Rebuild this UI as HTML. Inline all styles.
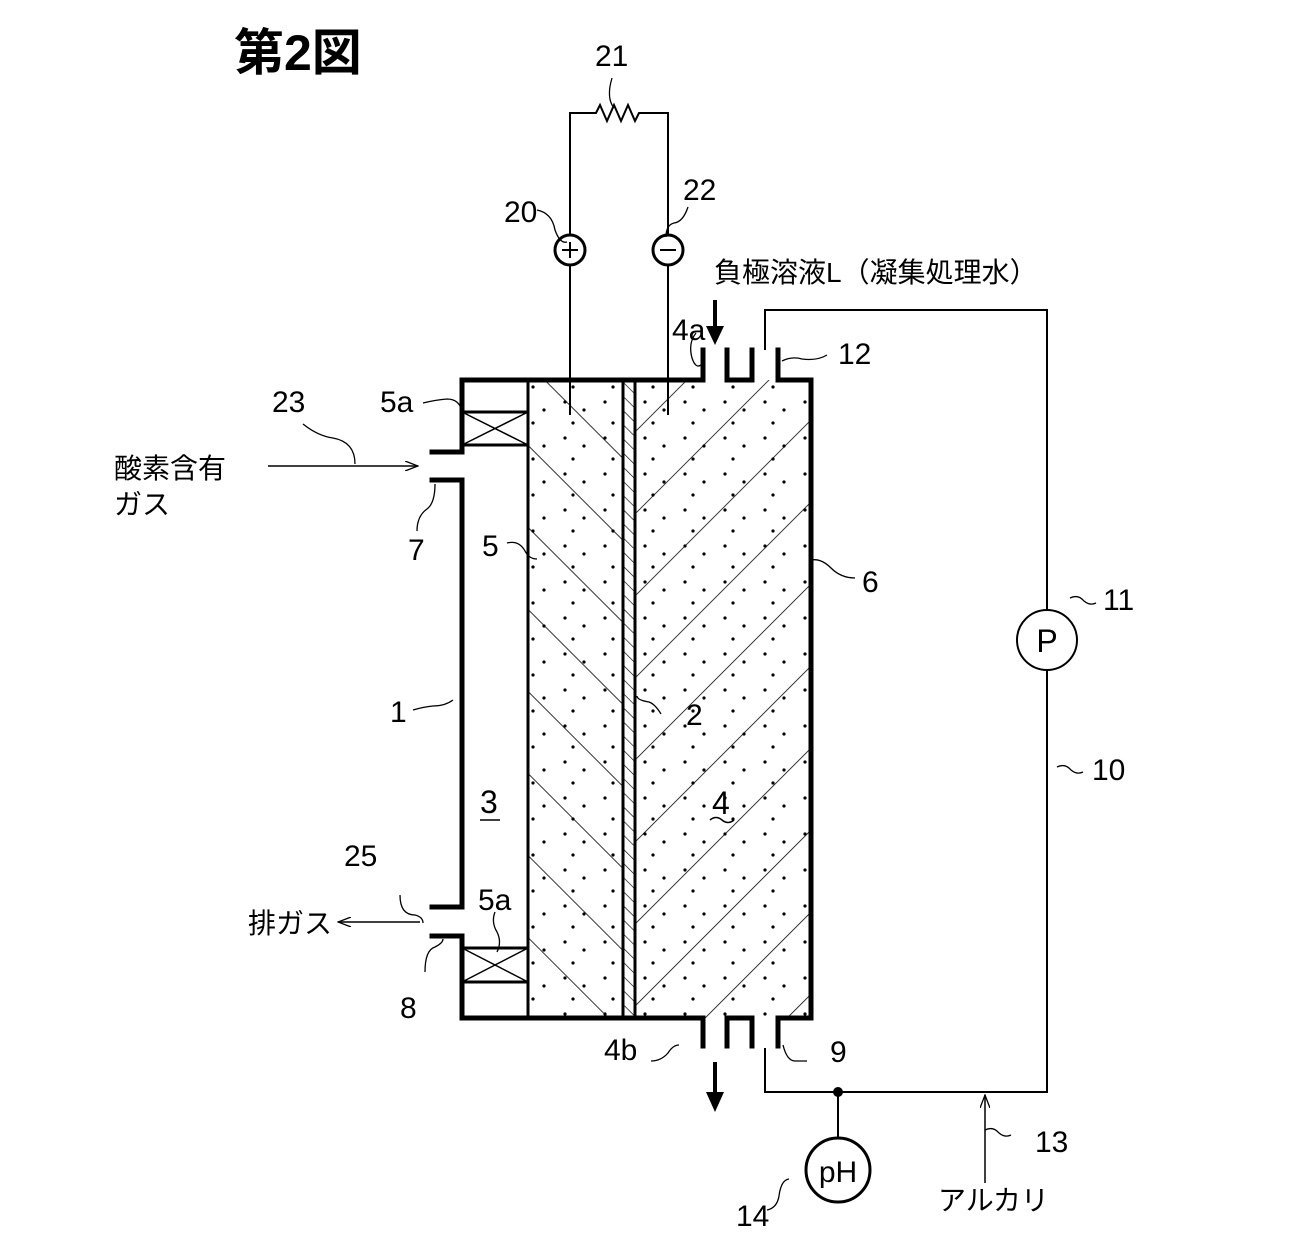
<!DOCTYPE html>
<html><head><meta charset="utf-8"><style>
html,body{margin:0;padding:0;background:#fff;}
svg{display:block}
text{font-family:"Liberation Sans","Noto Sans CJK JP",sans-serif;fill:#000}
</style></head><body>
<svg width="1307" height="1244" viewBox="0 0 1307 1244" xmlns="http://www.w3.org/2000/svg">
<defs>
<pattern id="dots" width="40" height="36" patternUnits="userSpaceOnUse">
<circle cx="5" cy="6" r="1.6" fill="#000"/><circle cx="24" cy="14" r="1.6" fill="#000"/>
<circle cx="13" cy="27" r="1.6" fill="#000"/>
</pattern>
<pattern id="hl" width="58" height="58" patternUnits="userSpaceOnUse" patternTransform="rotate(-45)">
<line x1="0" y1="0" x2="0" y2="58" stroke="#000" stroke-width="1.6"/>
</pattern>
<pattern id="hr" width="58" height="58" patternUnits="userSpaceOnUse" patternTransform="rotate(45)">
<line x1="0" y1="0" x2="0" y2="58" stroke="#000" stroke-width="1.6"/>
</pattern>
<pattern id="hm" width="10" height="10" patternUnits="userSpaceOnUse" patternTransform="rotate(-45)">
<line x1="0" y1="0" x2="0" y2="10" stroke="#000" stroke-width="1.3"/>
</pattern>
<marker id="ah" markerWidth="14" markerHeight="10" refX="13" refY="5" orient="auto" markerUnits="userSpaceOnUse">
<path d="M0,0 L13,5 L0,10" fill="none" stroke="#000" stroke-width="1.3"/>
</marker>
</defs>

<text x="234" y="70" font-size="50" font-weight="bold">第2図</text>

<!-- electrodes -->
<rect x="528" y="380" width="95" height="638" fill="url(#hl)"/>
<rect x="528" y="380" width="95" height="638" fill="url(#dots)"/>
<rect x="635" y="380" width="176" height="638" fill="url(#hr)"/>
<rect x="635" y="380" width="176" height="638" fill="url(#dots)"/>
<rect x="623" y="380" width="12" height="638" fill="url(#hm)"/>
<line x1="623" y1="380" x2="623" y2="1018" stroke="#000" stroke-width="3"/>
<line x1="635" y1="380" x2="635" y2="1018" stroke="#000" stroke-width="3"/>
<line x1="528" y1="380" x2="528" y2="1018" stroke="#000" stroke-width="3"/>

<!-- 5a boxes -->
<g stroke="#000" stroke-width="3" fill="none">
<rect x="462" y="412" width="66" height="33"/>
<rect x="462" y="948" width="66" height="34"/>
</g>
<g stroke="#000" stroke-width="1.5">
<line x1="462" y1="412" x2="528" y2="445"/><line x1="462" y1="445" x2="528" y2="412"/>
<line x1="462" y1="948" x2="528" y2="982"/><line x1="462" y1="982" x2="528" y2="948"/>
</g>

<!-- outer walls -->
<g stroke="#000" stroke-width="5" fill="none" stroke-linecap="square">
<path d="M432,452 H462 V380 H703 V350"/>
<path d="M432,480 H462 V907 H432"/>
<path d="M432,936 H462 V1018 H703 V1046"/>
<path d="M727,350 V380 H752 V350"/>
<path d="M727,1046 V1018 H752 V1046"/>
<path d="M778,350 V380 H811 V1018 H778 V1046"/>
</g>

<!-- top electrical -->
<g stroke="#000" stroke-width="2" fill="none">
<path d="M570,415 V265 M570,235 V113 H596 l4,-8 l7,16 l7,-16 l7,16 l7,-16 l7,16 l4,-8 H668 V235 M668,265 V415"/>
<circle cx="570" cy="250" r="15" stroke-width="3"/>
<circle cx="668" cy="250" r="15" stroke-width="3"/>
<path d="M562,250 H578 M570,242 V258 M660,250 H676"/>
</g>

<!-- circulation -->
<g stroke="#000" stroke-width="2" fill="none">
<path d="M765,350 V310 H1047 V610 M1047,670 V1092 H765 V1048"/>
<circle cx="1047" cy="640" r="30"/>
<path d="M838,1092 V1138"/>
<circle cx="838" cy="1170" r="32" stroke-width="3"/>
</g>
<circle cx="838" cy="1092" r="5" fill="#000"/>
<text x="1047" y="652" font-size="32" text-anchor="middle">P</text>
<text x="838" y="1182" font-size="30" text-anchor="middle">pH</text>

<!-- arrows -->
<g stroke="#000" stroke-width="4">
<line x1="715" y1="300" x2="715" y2="330"/>
<line x1="715" y1="1062" x2="715" y2="1094"/>
</g>
<path d="M706,326 L715,345 L724,326 Z" fill="#000"/>
<path d="M706,1092 L715,1112 L724,1092 Z" fill="#000"/>
<line x1="268" y1="466" x2="418" y2="466" stroke="#000" stroke-width="1.5" marker-end="url(#ah)"/>
<line x1="420" y1="922" x2="338" y2="922" stroke="#000" stroke-width="1.5" marker-end="url(#ah)"/>
<line x1="985" y1="1183" x2="985" y2="1095" stroke="#000" stroke-width="1.5" marker-end="url(#ah)"/>

<!-- leader lines -->
<g stroke="#000" stroke-width="1.3" fill="none">
<path d="M612,78 q-6,20 2,30"/>
<path d="M537,210 q15,3 18,20 q5,14 12,12"/>
<path d="M688,207 q-5,15 -14,16 q-8,2 -8,14"/>
<path d="M696,333 q-8,10 -4,25 q4,12 10,6"/>
<path d="M782,361 q10,-5 20,-2 q15,2 25,-4"/>
<path d="M303,424 q15,12 30,14 q22,4 22,26"/>
<path d="M423,403 q12,-3 24,-4 q12,0 15,12"/>
<path d="M417,531 q0,-15 10,-22 q8,-6 8,-25"/>
<path d="M507,543 q12,-3 18,8 q4,8 12,8"/>
<path d="M855,578 q-14,0 -24,-10 q-10,-10 -20,-8"/>
<path d="M1070,598 q8,-4 14,3 q6,5 12,2"/>
<path d="M661,714 q-6,-10 -12,-12 q-12,-2 -12,-6"/>
<path d="M413,710 q10,-3 20,-4 q12,0 20,-6"/>
<path d="M1057,767 q8,-4 14,3 q6,5 12,2"/>
<path d="M400,895 q0,20 15,20 q8,2 8,8"/>
<path d="M495,912 q-4,10 2,20 q5,10 0,20"/>
<path d="M425,972 q0,-22 10,-25 q8,-4 8,-8"/>
<path d="M651,1061 q10,0 17,-8 q5,-8 11,-8"/>
<path d="M783,1045 q4,16 12,16 q8,0 12,0"/>
<path d="M985,1130 q8,-4 14,3 q6,5 12,2"/>
<path d="M767,1210 q10,-2 12,-14 q2,-16 10,-17"/>
</g>

<!-- labels -->
<g font-size="30">
<text x="595" y="66">21</text>
<text x="504" y="222">20</text>
<text x="683" y="200">22</text>
<text x="672" y="340">4a</text>
<text x="838" y="364">12</text>
<text x="272" y="412">23</text>
<text x="380" y="412">5a</text>
<text x="408" y="560">7</text>
<text x="482" y="556">5</text>
<text x="862" y="592">6</text>
<text x="1103" y="610">11</text>
<text x="686" y="725">2</text>
<text x="390" y="722">1</text>
<text x="1092" y="780">10</text>
<text x="344" y="866">25</text>
<text x="478" y="910">5a</text>
<text x="400" y="1018">8</text>
<text x="604" y="1060">4b</text>
<text x="830" y="1062">9</text>
<text x="1035" y="1152">13</text>
<text x="736" y="1226">14</text>
</g>
<text x="480" y="813" font-size="32">3</text>
<text x="712" y="814" font-size="32">4</text>
<path d="M710,820 q6,-5 12,0 q6,5 12,0" stroke="#000" stroke-width="1.5" fill="none"/>
<line x1="480" y1="820" x2="500" y2="820" stroke="#000" stroke-width="1.5"/>
<g font-size="28">
<text x="714" y="282">負極溶液L（凝集処理水）</text>
<text x="114" y="478">酸素含有</text>
<text x="114" y="514">ガス</text>
<text x="248" y="933">排ガス</text>
<text x="938" y="1210">アルカリ</text>
</g>
</svg>
</body></html>
